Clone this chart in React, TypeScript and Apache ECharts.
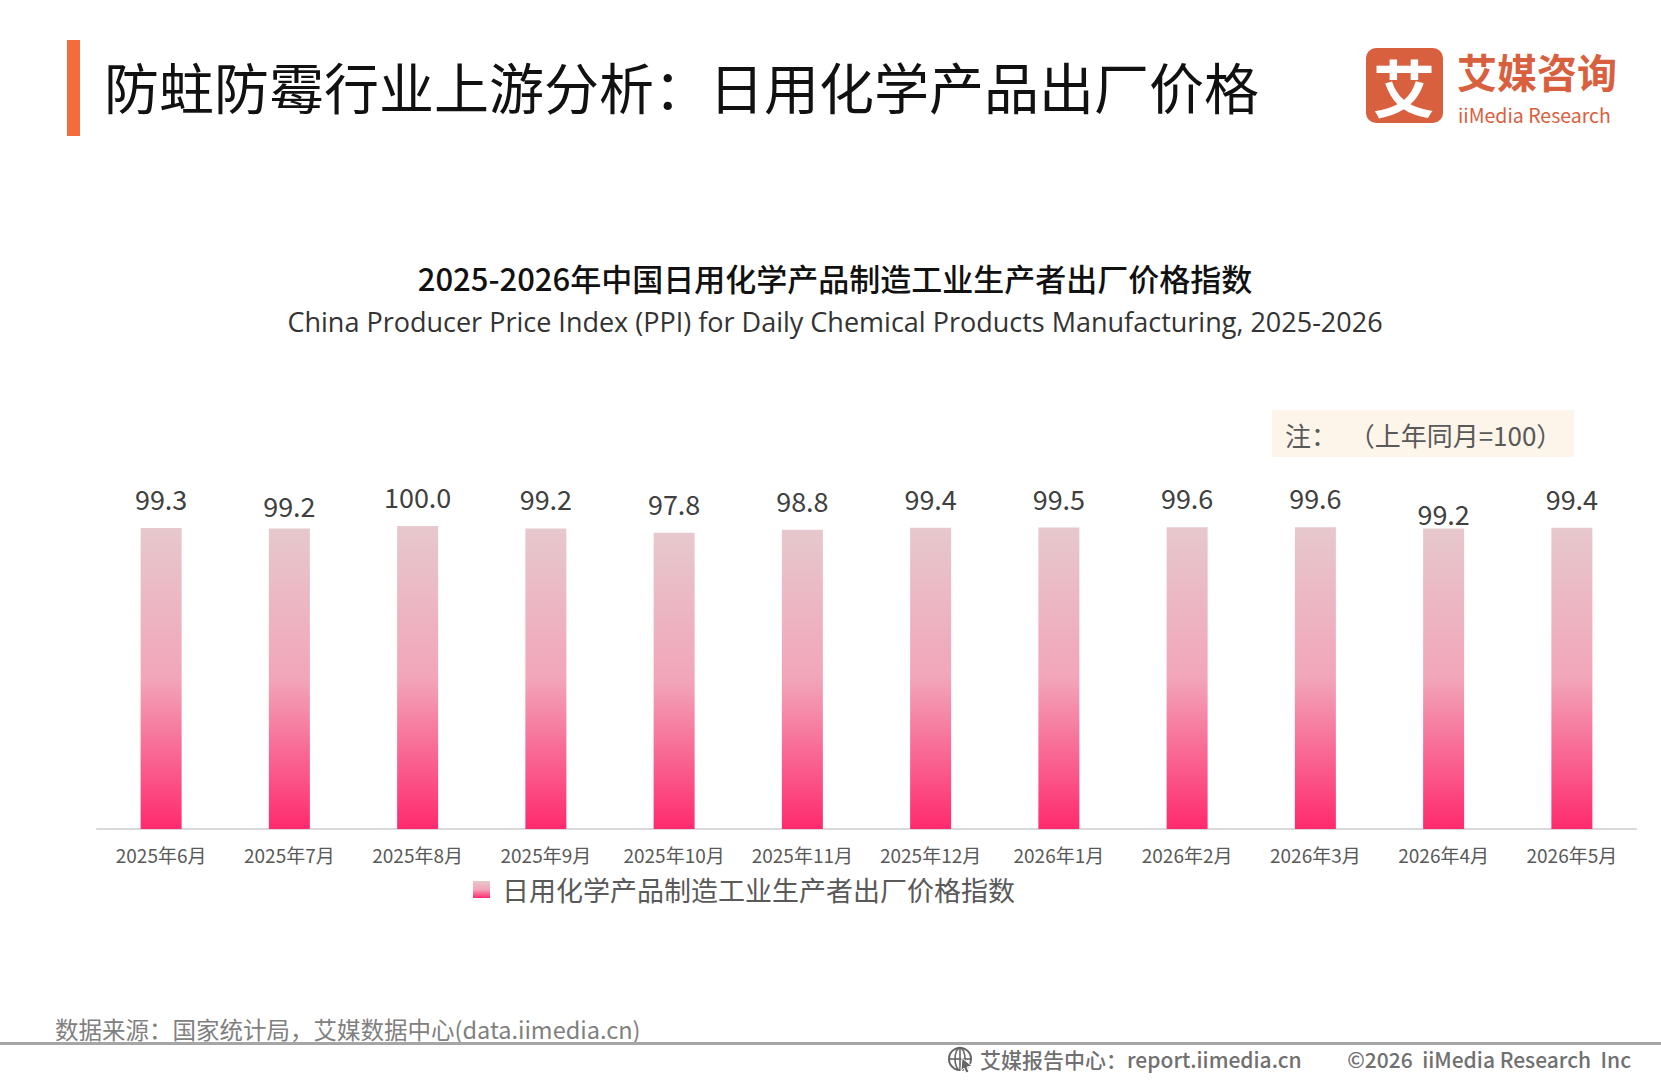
import React, { useEffect, useRef } from "react";
import * as echarts from "echarts";

const pageTitle = "防蛀防霉行业上游分析：日用化学产品出厂价格";
const chartTitle = "2025-2026年中国日用化学产品制造工业生产者出厂价格指数";
const chartSubtitle = "China Producer Price Index (PPI) for Daily Chemical Products Manufacturing, 2025-2026";
const noteText = "注：  （上年同月=100）";
const sourceText = "数据来源：国家统计局，艾媒数据中心(data.iimedia.cn)";
const footerLeft = "艾媒报告中心：report.iimedia.cn";
const footerRight = "©2026  iiMedia Research  Inc";
const seriesName = "日用化学产品制造工业生产者出厂价格指数";

const categories = [
  "2025年6月",
  "2025年7月",
  "2025年8月",
  "2025年9月",
  "2025年10月",
  "2025年11月",
  "2025年12月",
  "2026年1月",
  "2026年2月",
  "2026年3月",
  "2026年4月",
  "2026年5月",
];

const ppiValues = [99.3, 99.2, 100.0, 99.2, 97.8, 98.8, 99.4, 99.5, 99.6, 99.6, 99.2, 99.4];

// vertical nudges of some value labels, as in the reference
const labelNudge = [0, 7, 0, 0, 0, 0, 0, 0, 0, 0, 15, 0];

const FONT = '"Noto Sans CJK SC", "Noto Sans", sans-serif';
const LATIN = '"Open Sans", "Noto Sans CJK SC", sans-serif';
const LOGO = "#d9603e";

export default function App() {
  const ref = useRef<HTMLDivElement>(null);

  useEffect(() => {
    document.body.style.margin = "0";
    if (!ref.current) return;
    const chart = echarts.init(ref.current, null, { renderer: "svg" });

    const barGradient = {
      type: "linear",
      x: 0,
      y: 0,
      x2: 0,
      y2: 1,
      colorStops: [
        { offset: 0, color: "#e6c8cd" },
        { offset: 0.5, color: "#f2a5b9" },
        { offset: 1, color: "#ff2a6e" },
      ],
    };

    const option: any = {
      animation: false,
      backgroundColor: "#ffffff",
      textStyle: { fontFamily: FONT },
      title: [
        {
          text: chartTitle,
          left: 830,
          top: 257,
          textAlign: "center",
          textStyle: { fontFamily: FONT, fontSize: 31, fontWeight: 500, color: "#111111" },
        },
        {
          text: chartSubtitle,
          left: 830,
          top: 303,
          textAlign: "center",
          textStyle: { fontFamily: LATIN, fontSize: 27, fontWeight: "normal", color: "#333333" },
        },
      ],
      legend: {
        left: 468,
        top: 871,
        icon: "rect",
        itemWidth: 17,
        itemHeight: 17,
        data: [seriesName],
        textStyle: {
          fontFamily: FONT,
          fontSize: 27,
          color: "#595959",
          padding: [0, 0, 0, 7],
        },
      },
      grid: { left: 97, right: 25, top: 526, bottom: 251, containLabel: false },
      xAxis: {
        type: "category",
        data: categories,
        axisLine: { show: true, lineStyle: { color: "#d9d9d9", width: 2 } },
        axisTick: { show: false },
        axisLabel: { fontFamily: FONT, fontSize: 19, color: "#595959", margin: 16, interval: 0 },
      },
      yAxis: {
        type: "value",
        min: 0,
        max: 100,
        show: false,
        splitLine: { show: false },
      },
      series: [
        {
          name: seriesName,
          type: "bar",
          barWidth: 41,
          itemStyle: { color: barGradient },
          data: ppiValues.map((v, i) => ({
            value: v,
            label: { offset: [0, labelNudge[i]] },
          })),
          label: {
            show: true,
            position: "top",
            distance: 16,
            fontFamily: FONT,
            fontSize: 27,
            color: "#404040",
            formatter: (p: any) => Number(p.value).toFixed(1),
          },
        },
      ],
      graphic: [
        // title accent bar
        { type: "rect", shape: { x: 67, y: 40, width: 13, height: 96 }, style: { fill: "#f36c3c" } },
        {
          type: "text",
          style: {
            x: 104,
            y: 85,
            text: pageTitle,
            font: `normal 55px ${FONT}`,
            fill: "#111111",
            textAlign: "left",
            textVerticalAlign: "middle",
          },
        },
        // logo
        { type: "rect", shape: { x: 1366, y: 48, width: 77, height: 75, r: 10 }, style: { fill: LOGO } },
        {
          type: "text",
          style: {
            x: 1404,
            y: 86,
            text: "艾",
            font: `bold 62px ${FONT}`,
            fill: "#ffffff",
            textAlign: "center",
            textVerticalAlign: "middle",
          },
        },
        {
          type: "text",
          style: {
            x: 1457,
            y: 71,
            text: "艾媒咨询",
            font: `bold 40px ${FONT}`,
            fill: LOGO,
            textAlign: "left",
            textVerticalAlign: "middle",
          },
        },
        {
          type: "text",
          style: {
            x: 1458,
            y: 114,
            text: "iiMedia Research",
            font: `normal 19.5px ${FONT}`,
            fill: LOGO,
            textAlign: "left",
            textVerticalAlign: "middle",
          },
        },
        // note box
        { type: "rect", shape: { x: 1272, y: 410, width: 302, height: 47 }, style: { fill: "#fdf4ea" } },
        {
          type: "text",
          style: {
            x: 1285,
            y: 434,
            text: noteText,
            font: `normal 26px ${FONT}`,
            fill: "#595959",
            textAlign: "left",
            textVerticalAlign: "middle",
          },
        },
        // source
        {
          type: "text",
          style: {
            x: 55,
            y: 1029,
            text: sourceText,
            font: `normal 23.5px ${FONT}`,
            fill: "#808080",
            textAlign: "left",
            textVerticalAlign: "middle",
          },
        },
        // footer rule
        { type: "rect", shape: { x: 0, y: 1042, width: 1661, height: 3 }, style: { fill: "#a6a6a6" } },
        // globe icon
        { type: "circle", shape: { cx: 960, cy: 1059, r: 11 }, style: { fill: "none", stroke: "#666666", lineWidth: 2 } },
        { type: "ellipse", shape: { cx: 960, cy: 1059, rx: 5, ry: 11 }, style: { fill: "none", stroke: "#666666", lineWidth: 1.6 } },
        { type: "line", shape: { x1: 949, y1: 1059, x2: 971, y2: 1059 }, style: { stroke: "#666666", lineWidth: 1.6 } },
        { type: "line", shape: { x1: 960, y1: 1048, x2: 960, y2: 1070 }, style: { stroke: "#666666", lineWidth: 1.6 } },
        {
          type: "polygon",
          shape: { points: [[962, 1058], [972, 1066], [967, 1067], [969, 1072], [966, 1073], [964, 1068], [961, 1071]] },
          style: { fill: "#666666", stroke: "#ffffff", lineWidth: 1 },
        },
        {
          type: "text",
          style: {
            x: 980,
            y: 1059,
            text: footerLeft,
            font: `500 21px ${FONT}`,
            fill: "#707070",
            textAlign: "left",
            textVerticalAlign: "middle",
          },
        },
        {
          type: "text",
          style: {
            x: 1631,
            y: 1059,
            text: footerRight,
            font: `500 21px ${FONT}`,
            fill: "#707070",
            textAlign: "right",
            textVerticalAlign: "middle",
          },
        },
      ],
    };

    chart.setOption(option);
    return () => {
      chart.dispose();
    };
  }, []);

  return <div ref={ref} style={{ width: 1661, height: 1080 }} />;
}
